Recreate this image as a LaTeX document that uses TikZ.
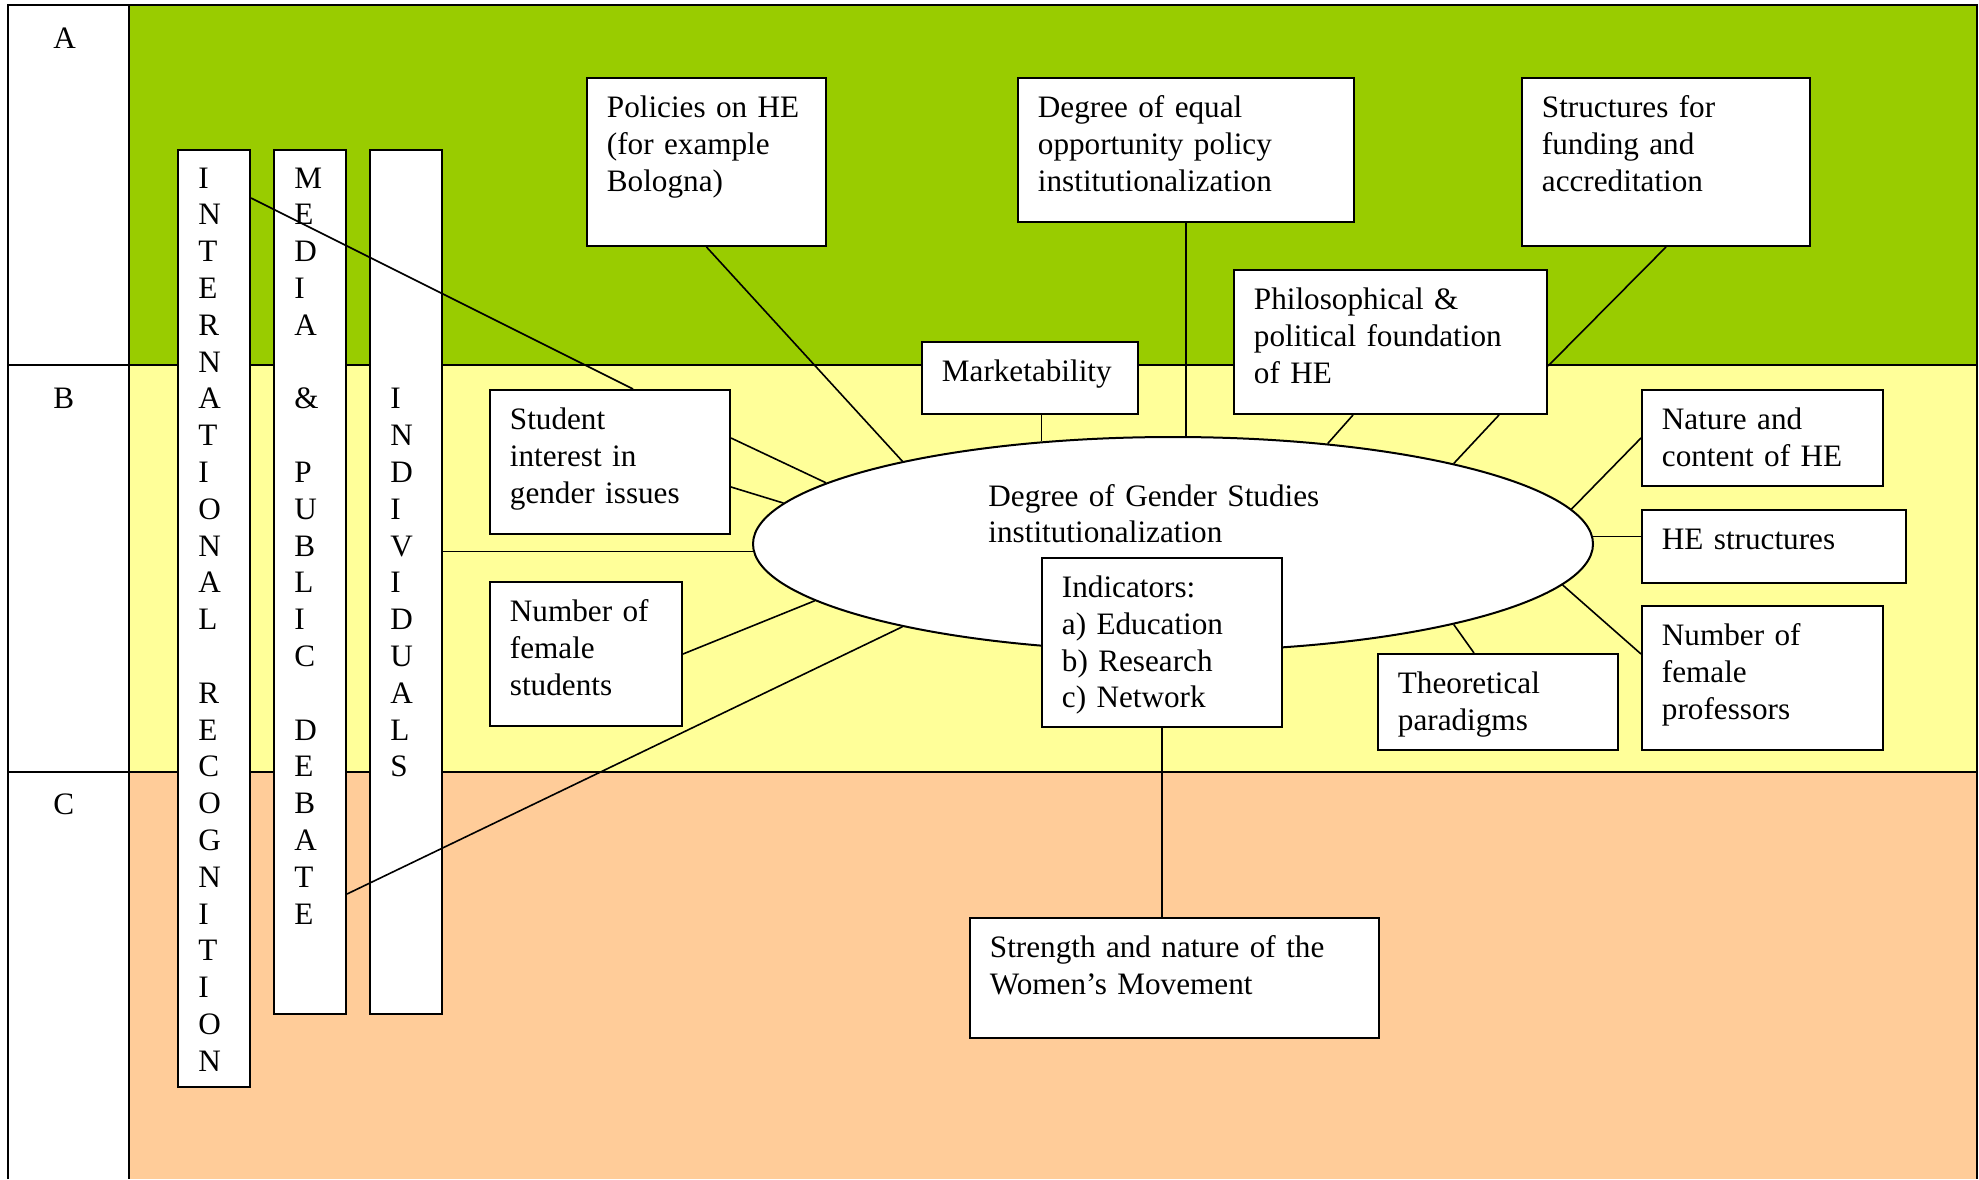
\documentclass[tikz,border=0pt]{standalone}
\usepackage{fontspec}
\setmainfont{Liberation Serif}
\usetikzlibrary{shapes.geometric}
\definecolor{zoneA}{HTML}{99CC00}
\definecolor{zoneB}{HTML}{FFFF99}
\definecolor{zoneC}{HTML}{FFCC99}
\begin{document}
\begin{tikzpicture}[x=0.5pt,y=-0.5pt,
  frame/.style={line width=1pt},
  box/.style={draw, fill=white, line width=1pt, inner sep=0, anchor=north west},
  wh/.style 2 args={minimum width=#1*0.5pt, minimum height=#2*0.5pt},
  txt/.style={anchor=base west, align=left, inner sep=0, text width=260pt,
    font=\fontsize{15.6pt}{18.4pt}\selectfont},
  conn/.style={line width=0.8pt}]
\useasboundingbox (0,0) rectangle (1979,1179);
\fill[white] (0,0) rectangle (1979,1179);
% zones
\fill[zoneA] (129,5) rectangle (1977,365);
\fill[zoneB] (129,365) rectangle (1977,772);
\fill[zoneC] (129,772) rectangle (1977,1179);
\draw[frame] (8,1179) -- (8,5) -- (1977,5) -- (1977,1179);
\draw[frame] (129,5) -- (129,1179);
\draw[frame] (8,365) -- (1977,365);
\draw[frame] (8,772) -- (1977,772);
\node[txt] (labA) at (53,48) {A};
\node[txt] (labB) at (53,408) {B};
\node[txt] (labC) at (53,814) {C};
% vertical columns
\node[box, wh={72}{937}] (intl) at (177,149) {};
\node[box, wh={72}{864}] (med) at (273,149) {};
\node[box, wh={72}{864}] (ind) at (369,149) {};
\node[txt] (intlT) at ([shift={(10.5pt,-19.5pt)}]intl.north west)
  {I\\N\\T\\E\\R\\N\\A\\T\\I\\O\\N\\A\\L\\\mbox{}\\R\\E\\C\\O\\G\\N\\I\\T\\I\\O\\N};
\node[txt] (medT) at ([shift={(10.5pt,-19.5pt)}]med.north west)
  {M\\E\\D\\I\\A\\\mbox{}\\\&\\\mbox{}\\P\\U\\B\\L\\I\\C\\\mbox{}\\D\\E\\B\\A\\T\\E};
\node[txt] (indT) at ([shift={(10.5pt,-129.9pt)}]ind.north west)
  {I\\N\\D\\I\\V\\I\\D\\U\\A\\L\\S};
% ellipse
\node[ellipse, draw, fill=white, line width=1pt, inner sep=0,
  minimum width=840*0.5pt, minimum height=214*0.5pt] (ell) at (1173,544) {};
\node[txt] (ellT) at (988,506) {Degree of Gender Studies\\institutionalization};
% boxes
\node[box, wh={239}{168}] (pol) at (586,77) {};
\node[txt] (polT) at ([shift={(10.25pt,-20.25pt)}]pol.north west) {Policies on HE\\(for example\\Bologna)};
\node[box, wh={336}{144}] (eq) at (1017,77) {};
\node[txt] (eqT) at ([shift={(10.25pt,-20.25pt)}]eq.north west) {Degree of equal\\opportunity policy\\institutionalization};
\node[box, wh={288}{168}] (str) at (1521,77) {};
\node[txt] (strT) at ([shift={(10.25pt,-20.25pt)}]str.north west) {Structures for\\funding and\\accreditation};
\node[box, wh={216}{72}] (mkt) at (921,341) {};
\node[txt] (mktT) at ([shift={(10.25pt,-20.25pt)}]mkt.north west) {Marketability};
\node[box, wh={313}{144}] (phil) at (1233,269) {};
\node[txt] (philT) at ([shift={(10.25pt,-20.25pt)}]phil.north west) {Philosophical \&\\political foundation\\of HE};
\node[box, wh={240}{144}] (stu) at (489,389) {};
\node[txt] (stuT) at ([shift={(10.25pt,-20.25pt)}]stu.north west) {Student\\interest in\\gender issues};
\node[box, wh={192}{144}] (nfs) at (489,581) {};
\node[txt] (nfsT) at ([shift={(10.25pt,-20.25pt)}]nfs.north west) {Number of\\female\\students};
\node[box, wh={240}{169}] (indc) at (1041,557) {};
\node[txt] (indcT) at ([shift={(10.25pt,-20.25pt)}]indc.north west) {Indicators:\\a) Education\\b) Research\\c) Network};
\node[box, wh={240}{96}] (theo) at (1377,653) {};
\node[txt] (theoT) at ([shift={(10.25pt,-20.25pt)}]theo.north west) {Theoretical\\paradigms};
\node[box, wh={241}{96}] (nat) at (1641,389) {};
\node[txt] (natT) at ([shift={(10.25pt,-20.25pt)}]nat.north west) {Nature and\\content of HE};
\node[box, wh={264}{73}] (hes) at (1641,509) {};
\node[txt] (hesT) at ([shift={(10.25pt,-20.25pt)}]hes.north west) {HE structures};
\node[box, wh={241}{144}] (prof) at (1641,605) {};
\node[txt] (profT) at ([shift={(10.25pt,-20.25pt)}]prof.north west) {Number of\\female\\professors};
\node[box, wh={409}{120}] (wm) at (969,917) {};
\node[txt] (wmT) at ([shift={(10.25pt,-20.25pt)}]wm.north west) {Strength and nature of the\\Women’s Movement};
% connectors
\draw[conn] ([yshift=-24.5pt]intl.north east) -- ([xshift=72pt]stu.north west);
\draw[conn] ([yshift=60.5pt]med.south east) -- (ell.197);
\draw[conn] (ell.181.8 -| ind.east) -- (ell.181.8);
\draw[conn] (pol.south) -- (ell.163.3);
\draw[conn] ([yshift=12pt]stu.east) -- (ell.170.1);
\draw[conn] ([yshift=-12.5pt]stu.east) -- (ell.174.9);
\draw[conn] (nfs.east) -- (ell.189.9);
\draw[conn] (mkt.south -| ell.142.4) -- (ell.142.4);
\draw[conn] (eq.south) -- (eq.south |- ell.north);
\draw[conn] ([xshift=60pt]phil.south west) -- (ell.33.5);
\draw[conn] ([xshift=-24.5pt]phil.south east) -- (ell.16.5);
\draw[conn] (str.south) -- ([yshift=-12pt]phil.east);
\draw[conn] (nat.west) -- (ell.5.2);
\draw[conn] (ell.1.5) -- (ell.1.5 -| hes.west);
\draw[conn] ([yshift=12pt]prof.west) -- (ell.354.8);
\draw[conn] ([xshift=-12pt]theo.north) -- (ell.344);
\draw[conn] (indc.south) -- (indc.south |- wm.north);
\end{tikzpicture}
\end{document}
